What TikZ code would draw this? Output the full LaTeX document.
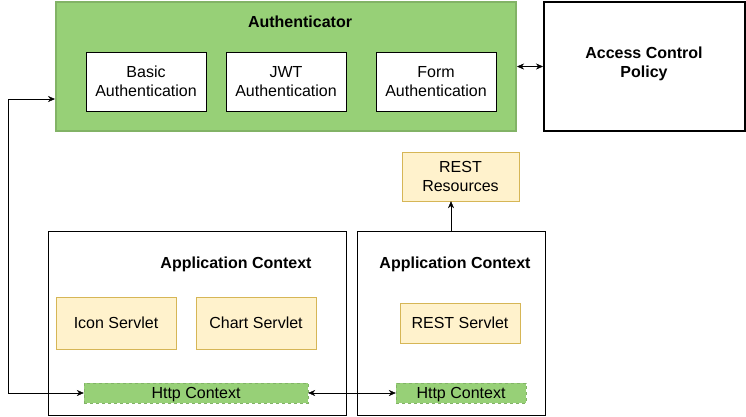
\documentclass[tikz,border=0pt]{standalone}
\usepackage{fontspec}
\setmainfont{Liberation Sans}
\usetikzlibrary{arrows.meta, positioning}
\definecolor{authgreen}{HTML}{97D077}
\definecolor{authline}{HTML}{82B366}
\definecolor{restfill}{HTML}{FFF2CC}
\definecolor{restline}{HTML}{D6B656}
\tikzset{
>={Stealth[length=7pt, width=6pt]}, % arrow heads
x=1pt, y=-1pt, % pixel like units, y going down
every node/.style={font=\fontsize{16}{19}\selectfont, align=center, inner sep=0pt, text depth=0pt},
authbox/.style={draw=authline, fill=authgreen, line width=2pt}, % the green authenticator
innerbox/.style={draw, fill=white, minimum width=120, minimum height=59},
restbox/.style={draw=restline, fill=restfill, minimum width=120}, % yellow boxes
ctxbox/.style={draw, fill=white, minimum height=184}, % application contexts
httpbox/.style={draw=authline, dashed, fill=authgreen, minimum height=20},
title/.style={font=\fontsize{16}{19}\selectfont\bfseries},
}

\begin{document}
\begin{tikzpicture}
  \useasboundingbox (0,0) rectangle (746,416);

  \node[authbox, minimum width=460, minimum height=129] (auth) at (286,66.5) {};
  \node[title] (authtitle) at (300,22) {Authenticator};
  \node[innerbox] (basic) at (146,81.5) {Basic\\Authentication};
  \node[innerbox] (jwt) at (286,81.5) {JWT\\Authentication};
  \node[innerbox] (form) at (436,81.5) {Form\\Authentication};

  \node[draw, line width=2pt, minimum width=201, minimum height=129] (acp) at (644.5,66.5) {};
  \node[title] (acptitle) at (644,62) {Access Control\\Policy};

  \node[restbox, minimum width=117, minimum height=49] (restres) at (460.5,176.5) {REST\\Resources};

  \node[ctxbox, minimum width=298] (appL) at (197,323) {};
  \node[title] (appLtitle) at (236,263) {Application Context};
  \node[restbox, minimum height=52] (icon) at (116,323) {Icon Servlet};
  \node[restbox, minimum height=52] (chart) at (256,323) {Chart Servlet};
  \node[httpbox, minimum width=224] (httpL) at (196,393) {Http Context};

  \node[ctxbox, minimum width=188] (appR) at (451,323) {};
  \node[title] (appRtitle) at (455,263) {Application Context};
  \node[restbox, minimum height=40] (restserv) at (460,323) {REST Servlet};
  \node[httpbox, minimum width=130] (httpR) at (461,393) {Http Context};

  \coordinate (bend) at (8,99);
  \draw[<->] (httpL.west) -| (bend) -- (bend -| auth.west);
  \draw[<->] (auth.east) -- (acp.west);
  \draw[<->] (httpL.east) -- (httpR.west);
  \draw[->] (appR.north) -- (appR.north |- restres.south);
\end{tikzpicture}
\end{document}
